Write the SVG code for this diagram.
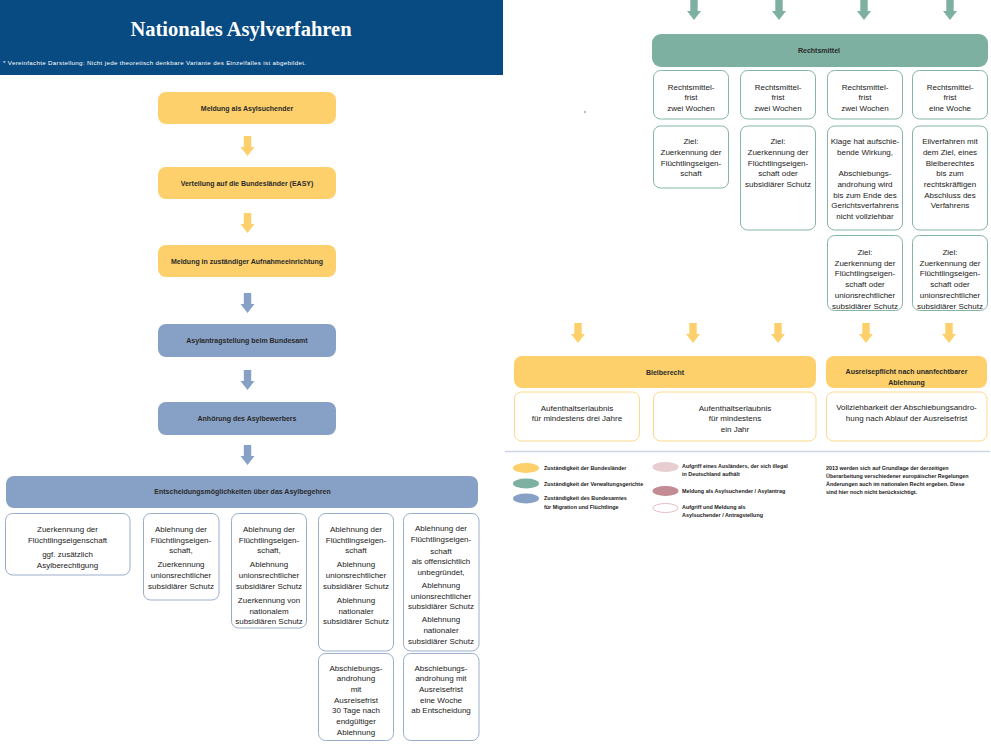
<svg xmlns="http://www.w3.org/2000/svg" xmlns:xlink="http://www.w3.org/1999/xlink" width="991" height="745" viewBox="0 0 991 745">
<style>
.t{font-family:"Liberation Sans",Arial,sans-serif;font-size:8px;fill:#222;text-anchor:middle}
.b{font-weight:bold;font-size:7px;fill:#2a2a2a}
.lg{font-family:"Liberation Sans",Arial,sans-serif;font-size:5.4px;font-weight:bold;fill:#222}
.yb{fill:#FDD06B}
.bb{fill:#87A0C5}
.gb{fill:#7DB0A1}
.ob{fill:#fff;stroke:#9AAECB;stroke-width:1}
.og{fill:#fff;stroke:#84B5A6;stroke-width:1}
.oy{fill:#fff;stroke:#FDD98C;stroke-width:1}
.ay{fill:#FDD06B}
.ab{fill:#87A0C5}
.ag{fill:#7DB0A1}
</style>
<defs>
<path id="arr" d="M-3.7,0 H3.7 V11 H7 L0,20 L-7,11 H-3.7 Z"/>
</defs>
<rect width="991" height="745" fill="#fff"/>
<g id="banner">
<rect x="0" y="0" width="503" height="75" fill="#074B82"/>
<text x="241" y="36" style="font-family:'Liberation Serif','Times New Roman',serif;font-size:20.5px;font-weight:bold;fill:#fff;text-anchor:middle">Nationales Asylverfahren</text>
<text x="3" y="64.5" textLength="303" style="font-family:'Liberation Sans',Arial,sans-serif;font-size:6.2px;fill:#fff">* Vereinfachte Darstellung: Nicht jede theoretisch denkbare Variante des Einzelfalles ist abgebildet.</text>
</g>
<circle cx="585" cy="112" r="0.7" fill="#444"/>
<g id="connectors">
<use xlink:href="#arr" x="247.5" y="136" class="ay"/>
<use xlink:href="#arr" x="247.5" y="213" class="ay"/>
<use xlink:href="#arr" x="247.5" y="293" class="ab"/>
<use xlink:href="#arr" x="247.5" y="370" class="ab"/>
<use xlink:href="#arr" x="247.5" y="445" class="ab"/>
<use xlink:href="#arr" x="694" y="0" class="ag"/>
<use xlink:href="#arr" x="779" y="0" class="ag"/>
<use xlink:href="#arr" x="864" y="0" class="ag"/>
<use xlink:href="#arr" x="950" y="0" class="ag"/>
<use xlink:href="#arr" x="578" y="323" class="ay"/>
<use xlink:href="#arr" x="693" y="323" class="ay"/>
<use xlink:href="#arr" x="778" y="323" class="ay"/>
<use xlink:href="#arr" x="866" y="323" class="ay"/>
<use xlink:href="#arr" x="949" y="323" class="ay"/>
</g>
<g id="n-meldung"><rect x="158" y="92" width="178" height="32" rx="8" class="yb"/><text x="247" y="110.5" class="t b">Meldung als Asylsuchender</text></g>
<g id="n-verteilung"><rect x="158" y="167" width="178" height="32" rx="8" class="yb"/><text x="247" y="186" class="t b">Verteilung auf die Bundesländer (EASY)</text></g>
<g id="n-aufnahme"><rect x="158" y="245" width="178" height="32" rx="8" class="yb"/><text x="247" y="264" class="t b">Meldung in zuständiger Aufnahmeeinrichtung</text></g>
<g id="n-antrag"><rect x="158" y="324" width="178" height="33" rx="8" class="bb"/><text x="247" y="343" class="t b">Asylantragstellung beim Bundesamt</text></g>
<g id="n-anhoerung"><rect x="158" y="402" width="178" height="33" rx="8" class="bb"/><text x="247" y="420.5" class="t b">Anhörung des Asylbewerbers</text></g>
<g id="n-entscheidung"><rect x="6" y="476" width="472" height="32" rx="8" class="bb"/><text x="242.5" y="494" class="t b">Entscheidungsmöglichkeiten über das Asylbegehren</text></g>

<g id="n-e1"><rect x="5.5" y="513.5" width="124.5" height="61.5" rx="7" class="ob"/>
<text class="t"><tspan x="67.5" y="532">Zuerkennung der</tspan><tspan x="67.5" y="543">Flüchtlingseigenschaft</tspan><tspan x="67.5" y="557">ggf. zusätzlich</tspan><tspan x="67.5" y="567.5">Asylberechtigung</tspan></text></g>
<g id="n-e2"><rect x="143.5" y="513.5" width="75.5" height="86.5" rx="7" class="ob"/>
<text class="t"><tspan x="181" y="532">Ablehnung der</tspan><tspan x="181" y="543">Flüchtlingseigen-</tspan><tspan x="181" y="553">schaft,</tspan><tspan x="181" y="567">Zuerkennung</tspan><tspan x="181" y="578">unionsrechtlicher</tspan><tspan x="181" y="589">subsidiärer Schutz</tspan></text></g>
<g id="n-e3"><rect x="231.5" y="513.5" width="75" height="114.5" rx="7" class="ob"/>
<text class="t"><tspan x="269" y="532">Ablehnung der</tspan><tspan x="269" y="543">Flüchtlingseigen-</tspan><tspan x="269" y="553">schaft,</tspan><tspan x="269" y="567">Ablehnung</tspan><tspan x="269" y="578">unionsrechtlicher</tspan><tspan x="269" y="589">subsidiärer Schutz</tspan><tspan x="269" y="603">Zuerkennung von</tspan><tspan x="269" y="614">nationalem</tspan><tspan x="269" y="624">subsidiären Schutz</tspan></text></g>
<g id="n-e4"><rect x="318.5" y="513.5" width="75" height="137.5" rx="7" class="ob"/>
<text class="t"><tspan x="356" y="532">Ablehnung der</tspan><tspan x="356" y="543">Flüchtlingseigen-</tspan><tspan x="356" y="553">schaft</tspan><tspan x="356" y="567">Ablehnung</tspan><tspan x="356" y="578">unionsrechtlicher</tspan><tspan x="356" y="589">subsidiärer Schutz</tspan><tspan x="356" y="603">Ablehnung</tspan><tspan x="356" y="614">nationaler</tspan><tspan x="356" y="624">subsidiärer Schutz</tspan></text></g>
<g id="n-e5"><rect x="403.5" y="513.5" width="75.5" height="137.5" rx="7" class="ob"/>
<text class="t"><tspan x="441" y="531">Ablehnung der</tspan><tspan x="441" y="542">Flüchtlingseigen-</tspan><tspan x="441" y="554">schaft</tspan><tspan x="441" y="564">als offensichtlich</tspan><tspan x="441" y="575">unbegründet,</tspan><tspan x="441" y="588">Ablehnung</tspan><tspan x="441" y="599">unionsrechtlicher</tspan><tspan x="441" y="609">subsidiärer Schutz</tspan><tspan x="441" y="622">Ablehnung</tspan><tspan x="441" y="633">nationaler</tspan><tspan x="441" y="644">subsidiärer Schutz</tspan></text></g>
<g id="n-e4b"><rect x="318.5" y="653.5" width="75" height="87" rx="7" class="ob"/>
<text class="t"><tspan x="356" y="671">Abschiebungs-</tspan><tspan x="356" y="681">androhung</tspan><tspan x="356" y="692">mit</tspan><tspan x="356" y="703">Ausreisefrist</tspan><tspan x="356" y="713">30 Tage nach</tspan><tspan x="356" y="724">endgültiger</tspan><tspan x="356" y="735">Ablehnung</tspan></text></g>
<g id="n-e5b"><rect x="403.5" y="653.5" width="75.5" height="87" rx="7" class="ob"/>
<text class="t"><tspan x="441" y="671">Abschiebungs-</tspan><tspan x="441" y="681">androhung mit</tspan><tspan x="441" y="692">Ausreisefrist</tspan><tspan x="441" y="703">eine Woche</tspan><tspan x="441" y="713">ab Entscheidung</tspan></text></g>

<g id="n-rechtsmittel"><rect x="652" y="34" width="336" height="33" rx="9" class="gb"/><text x="819" y="53" class="t b">Rechtsmittel</text></g>
<g id="n-r1"><rect x="653.5" y="70.5" width="75" height="48.5" rx="7" class="og"/>
<text class="t"><tspan x="691" y="90">Rechtsmittel-</tspan><tspan x="691" y="100">frist</tspan><tspan x="691" y="111">zwei Wochen</tspan></text></g>
<g id="n-r2"><rect x="740.5" y="70.5" width="75" height="48.5" rx="7" class="og"/>
<text class="t"><tspan x="778" y="90">Rechtsmittel-</tspan><tspan x="778" y="100">frist</tspan><tspan x="778" y="111">zwei Wochen</tspan></text></g>
<g id="n-r3"><rect x="827.5" y="70.5" width="75" height="48.5" rx="7" class="og"/>
<text class="t"><tspan x="865" y="90">Rechtsmittel-</tspan><tspan x="865" y="100">frist</tspan><tspan x="865" y="111">zwei Wochen</tspan></text></g>
<g id="n-r4"><rect x="912.5" y="70.5" width="75" height="48.5" rx="7" class="og"/>
<text class="t"><tspan x="950" y="90">Rechtsmittel-</tspan><tspan x="950" y="100">frist</tspan><tspan x="950" y="111">eine Woche</tspan></text></g>

<g id="n-z1"><rect x="653.5" y="126" width="75" height="62" rx="7" class="og"/>
<text class="t"><tspan x="691" y="144">Ziel:</tspan><tspan x="691" y="155">Zuerkennung der</tspan><tspan x="691" y="166">Flüchtlingseigen-</tspan><tspan x="691" y="176">schaft</tspan></text></g>
<g id="n-z2"><rect x="740.5" y="126" width="75" height="104" rx="7" class="og"/>
<text class="t"><tspan x="778" y="144">Ziel:</tspan><tspan x="778" y="155">Zuerkennung der</tspan><tspan x="778" y="166">Flüchtlingseigen-</tspan><tspan x="778" y="176">schaft oder</tspan><tspan x="778" y="187">subsidiärer Schutz</tspan></text></g>
<g id="n-z3"><rect x="827.5" y="126" width="75" height="104" rx="7" class="og"/>
<text class="t"><tspan x="865" y="144">Klage hat aufschie-</tspan><tspan x="865" y="155">bende Wirkung,</tspan><tspan x="865" y="176">Abschiebungs-</tspan><tspan x="865" y="187">androhung wird</tspan><tspan x="865" y="198">bis zum Ende des</tspan><tspan x="865" y="208">Gerichtsverfahrens</tspan><tspan x="865" y="219">nicht vollziehbar</tspan></text></g>
<g id="n-z4"><rect x="912.5" y="126" width="75" height="104" rx="7" class="og"/>
<text class="t"><tspan x="950" y="144">Eilverfahren mit</tspan><tspan x="950" y="155">dem Ziel, eines</tspan><tspan x="950" y="166">Bleiberechtes</tspan><tspan x="950" y="176">bis zum</tspan><tspan x="950" y="187">rechtskräftigen</tspan><tspan x="950" y="198">Abschluss des</tspan><tspan x="950" y="208">Verfahrens</tspan></text></g>
<g id="n-z5"><rect x="827.5" y="235.5" width="75" height="75" rx="7" class="og"/>
<text class="t"><tspan x="865" y="255">Ziel:</tspan><tspan x="865" y="266">Zuerkennung der</tspan><tspan x="865" y="276">Flüchtlingseigen-</tspan><tspan x="865" y="287">schaft oder</tspan><tspan x="865" y="298">unionsrechtlicher</tspan><tspan x="865" y="309">subsidiärer Schutz</tspan></text></g>
<g id="n-z6"><rect x="912.5" y="235.5" width="75" height="75" rx="7" class="og"/>
<text class="t"><tspan x="950" y="255">Ziel:</tspan><tspan x="950" y="266">Zuerkennung der</tspan><tspan x="950" y="276">Flüchtlingseigen-</tspan><tspan x="950" y="287">schaft oder</tspan><tspan x="950" y="298">unionsrechtlicher</tspan><tspan x="950" y="309">subsidiärer Schutz</tspan></text></g>

<g id="n-bleiberecht"><rect x="514" y="356" width="302" height="32" rx="8" class="yb"/><text x="665" y="374.5" class="t b">Bleiberecht</text></g>
<g id="n-ausreise"><rect x="826" y="356" width="161" height="32" rx="8" class="yb"/><text class="t b"><tspan x="906.5" y="374">Ausreisepflicht nach unanfechtbarer</tspan><tspan x="906.5" y="384.5">Ablehnung</tspan></text></g>
<g id="n-b1"><rect x="514.5" y="392" width="125" height="49" rx="7" class="oy"/>
<text class="t"><tspan x="577" y="411">Aufenthaltserlaubnis</tspan><tspan x="577" y="421">für mindestens drei Jahre</tspan></text></g>
<g id="n-b2"><rect x="653.5" y="392" width="162.5" height="49" rx="7" class="oy"/>
<text class="t"><tspan x="735" y="411">Aufenthaltserlaubnis</tspan><tspan x="735" y="421">für mindestens</tspan><tspan x="735" y="432">ein Jahr</tspan></text></g>
<g id="n-b3"><rect x="826.5" y="392" width="160.5" height="49" rx="7" class="oy"/>
<text class="t"><tspan x="906.5" y="410">Vollziehbarkeit der Abschiebungsandro-</tspan><tspan x="906.5" y="421">hung nach Ablauf der Ausreisefrist</tspan></text></g>

<g id="legend">
<line x1="505" y1="451.5" x2="990" y2="451.5" stroke="#CDD5E2" stroke-width="1.5"/>
<ellipse cx="526" cy="468" rx="13" ry="5" fill="#FDD06B"/>
<text x="544" y="470" class="lg">Zuständigkeit der Bundesländer</text>
<ellipse cx="526" cy="483.5" rx="13" ry="5" fill="#7DB0A1"/>
<text x="544" y="485.5" class="lg">Zuständigkeit der Verwaltungsgerichte</text>
<ellipse cx="526" cy="498.5" rx="13" ry="5" fill="#87A0C5"/>
<text class="lg"><tspan x="544" y="500">Zuständigkeit des Bundesamtes</tspan><tspan x="544" y="508.5">für Migration und Flüchtlinge</tspan></text>
<ellipse cx="665.5" cy="467" rx="13" ry="5" fill="#E8CDD1"/>
<text class="lg"><tspan x="682" y="467.5">Aufgriff eines Ausländers, der sich illegal</tspan><tspan x="682" y="476">in Deutschland aufhält</tspan></text>
<ellipse cx="665.5" cy="491" rx="13" ry="5" fill="#C38B93"/>
<text x="682" y="493" class="lg">Meldung als Asylsuchender / Asylantrag</text>
<ellipse cx="665.5" cy="508" rx="12.5" ry="4.5" fill="#fff" stroke="#E5BFC3" stroke-width="1"/>
<text class="lg"><tspan x="682" y="508.5">Aufgriff und  Meldung als</tspan><tspan x="682" y="517">Asylsuchender / Antragstellung</tspan></text>
<text class="lg"><tspan x="826" y="469.5">2013 werden sich auf Grundlage der derzeitigen</tspan><tspan x="826" y="477.5">Überarbeitung verschiedener europäischer Regelungen</tspan><tspan x="826" y="485.5">Änderungen auch im nationalen Recht ergeben. Diese</tspan><tspan x="826" y="493.5">sind hier noch nicht berücksichtigt.</tspan></text>
</g>
</svg>
